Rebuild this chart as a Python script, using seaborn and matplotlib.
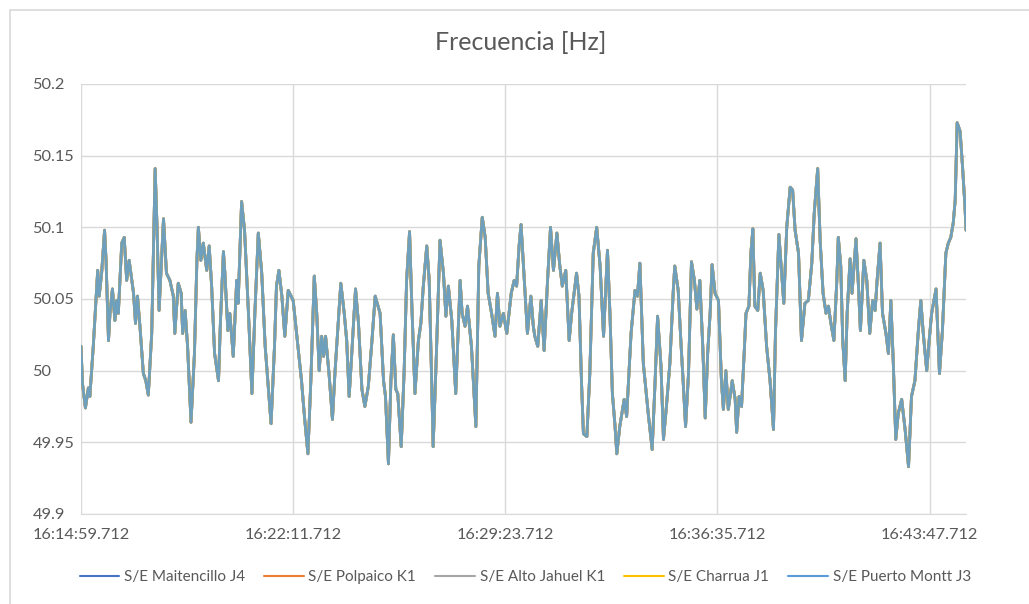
import numpy as np
import pandas as pd
import seaborn as sns
import matplotlib.pyplot as plt
import matplotlib.patches as mpatches
from matplotlib.ticker import FuncFormatter, FixedLocator

# time since 16:14:59.712 in seconds
tiempo_s = [
    0, 3, 9, 15, 18, 25, 28, 34, 37, 42, 48, 51, 56, 59, 64, 69, 73, 76, 83, 88,
    93, 98, 107, 111, 115, 120, 127, 132, 137, 144, 151, 155, 159, 168, 174, 181, 188, 191, 198, 204,
    207, 212, 217, 224, 231, 236, 239, 244, 249, 256, 261, 266, 272, 280, 284, 290,
    293, 299, 303, 310, 317, 320, 327, 333, 341, 348, 354, 361, 368, 375, 387, 394, 398, 403, 409, 415,
    422, 432, 439, 449, 455, 462, 468, 475, 480, 485, 490, 494, 498, 505, 512, 517, 524, 529, 536, 541,
    546, 551, 559, 565, 572, 578, 585, 592,
    599, 609, 616, 620, 626, 631, 636, 641, 645, 652, 658, 663, 669, 673, 680, 687, 692, 697, 704, 709,
    714, 717, 723, 731, 738, 743, 748, 755, 763, 772, 776, 782, 787, 795, 804, 810, 817, 823, 829, 836,
    843, 848, 853, 860, 867, 876, 882, 887, 892, 896, 901,
    904, 909, 916, 921, 924, 930, 937, 943, 950, 956, 962, 969, 975, 980, 987, 994, 999, 1009, 1014, 1019,
    1023, 1030, 1036, 1043, 1050, 1057, 1064, 1072, 1077, 1082, 1087, 1091, 1097, 1106, 1111, 1120, 1128, 1133, 1138, 1145,
    1155, 1163, 1169, 1174, 1181, 1186, 1192, 1199, 1206,
    1209, 1216, 1222, 1226, 1231, 1237, 1243, 1249, 1254, 1260, 1266, 1271, 1276, 1281, 1285, 1291, 1298, 1304, 1308, 1313,
    1318, 1326, 1332, 1335, 1340, 1345, 1351, 1354, 1360, 1364, 1368, 1372, 1378, 1383, 1389, 1396, 1403, 1410, 1414, 1421,
    1427, 1431, 1437, 1444, 1449, 1454, 1461, 1467, 1474, 1481, 1488, 1493, 1500,
    1505, 1511, 1517, 1522, 1526, 1533, 1539, 1542, 1547, 1551, 1556, 1560, 1566, 1570, 1578, 1583, 1587, 1594, 1600, 1606,
    1612, 1617, 1621, 1627, 1632, 1639, 1644, 1649, 1654, 1659, 1664, 1671, 1678, 1685, 1691, 1698, 1705, 1710, 1715, 1722,
    1727, 1732, 1741, 1748, 1754, 1761, 1766, 1771, 1776, 1780, 1784, 1790, 1795, 1800, 1802,
]

frecuencia = [
    50.017, 49.991, 49.974, 49.988, 49.982, 50.017, 50.035, 50.070, 50.052, 50.068,
    50.098, 50.077, 50.021, 50.040, 50.057, 50.035, 50.049, 50.040, 50.089, 50.093,
    50.063, 50.077, 50.054, 50.033, 50.052, 50.031, 49.998, 49.993, 49.983, 50.026,
    50.141, 50.098, 50.042, 50.106, 50.068, 50.063, 50.052, 50.026, 50.061, 50.054,
    50.026, 50.042, 50.017, 49.964, 50.012, 50.077, 50.100, 50.077, 50.089, 50.070,
    50.087, 50.059, 50.012, 49.993, 50.035, 50.083,
    50.068, 50.028, 50.040, 50.010, 50.063, 50.047, 50.118, 50.098, 50.040, 49.984,
    50.040, 50.096, 50.068, 50.017, 49.963, 50.017, 50.059, 50.070, 50.052, 50.024,
    50.056, 50.049, 50.026, 49.993, 49.968, 49.942, 49.993, 50.066, 50.040, 50.000,
    50.024, 50.010, 50.024, 49.998, 49.966, 49.998, 50.035, 50.061, 50.040, 50.021,
    49.982, 50.010, 50.057, 50.033, 49.987, 49.975, 49.989, 50.019,
    50.052, 50.040, 49.993, 49.982, 49.935, 49.993, 50.025, 49.987, 49.984, 49.947,
    50.000, 50.063, 50.097, 50.052, 49.984, 50.021, 50.033, 50.059, 50.087, 50.063,
    49.993, 49.947, 50.005, 50.091, 50.068, 50.038, 50.059, 50.035, 49.984, 50.063,
    50.040, 50.031, 50.045, 50.017, 49.961, 50.073, 50.107, 50.093, 50.054, 50.040,
    50.024, 50.054, 50.031, 50.040, 50.026, 50.054, 50.063, 50.059, 50.087, 50.102,
    50.073,
    50.056, 50.026, 50.052, 50.031, 50.024, 50.017, 50.049, 50.014, 50.063, 50.100,
    50.070, 50.096, 50.073, 50.059, 50.070, 50.021, 50.040, 50.068, 50.052, 49.993,
    49.956, 49.954, 49.998, 50.082, 50.100, 50.073, 50.024, 50.084, 50.040, 49.984,
    49.963, 49.942, 49.961, 49.980, 49.968, 50.026, 50.056, 50.052, 50.075, 50.005,
    49.970, 49.945, 49.993, 50.038, 50.003, 49.952, 49.975, 50.005, 50.056,
    50.073, 50.056, 50.017, 49.993, 49.961, 49.998, 50.076, 50.063, 50.043, 50.063,
    50.017, 49.967, 50.012, 50.040, 50.074, 50.054, 50.049, 49.993, 49.973, 50.000,
    49.973, 49.993, 49.980, 49.957, 49.982, 49.975, 50.017, 50.040, 50.045, 50.082,
    50.099, 50.045, 50.042, 50.068, 50.056, 50.017, 49.993, 49.959, 50.026, 50.095,
    50.066, 50.047, 50.100, 50.128, 50.126, 50.098, 50.082, 50.021, 50.047, 50.049,
    50.075, 50.110, 50.141,
    50.091, 50.054, 50.040, 50.045, 50.035, 50.021, 50.063, 50.093, 50.073, 50.021,
    49.993, 50.040, 50.078, 50.054, 50.092, 50.059, 50.028, 50.077, 50.063, 50.026,
    50.049, 50.042, 50.063, 50.089, 50.040, 50.026, 50.012, 50.049, 50.005, 49.952,
    49.970, 49.980, 49.959, 49.933, 49.982, 49.993, 50.028, 50.049, 50.026, 50.000,
    50.021, 50.040, 50.057, 49.998, 50.028, 50.082, 50.089, 50.093, 50.103, 50.119,
    50.173, 50.167, 50.142, 50.114, 50.098,
]

subestaciones = ["S/E Maitencillo J4", "S/E Polpaico K1", "S/E Alto Jahuel K1",
                 "S/E Charrua J1", "S/E Puerto Montt J3"]
colores = ["#4472C4", "#ED7D31", "#A5A5A5", "#FFC000", "#5B9BD5"]

inicio_s = 16 * 3600 + 14 * 60 + 59.712
ticks_s = [0, 432, 864, 1296, 1728]
ticks_y = [49.9, 49.95, 50.0, 50.05, 50.1, 50.15, 50.2]

# the five traces lie on top of each other in the chart
frames = []
for nombre in subestaciones:
    frames.append(pd.DataFrame({"t": tiempo_s, "f": frecuencia, "serie": nombre}))
df = pd.concat(frames, ignore_index=True)

sns.set_style("white")
plt.rcParams["font.family"] = ["Lato", "DejaVu Sans"]
gris = "#595959"

fig = plt.figure(figsize=(10.29, 6.04), dpi=100)
ax = fig.add_axes([81 / 1029, 90 / 604, 885 / 1029, 430 / 604])

sns.lineplot(data=df, x="t", y="f", hue="serie", hue_order=subestaciones,
             palette=colores, linewidth=2.0, errorbar=None, ax=ax)
for linea in ax.lines[:4]:
    linea.set_alpha(0.9)
ax.lines[4].set_alpha(0.88)

ax.set_xlim(0, 1802)
ax.set_ylim(49.9, 50.2)
ax.xaxis.set_major_locator(FixedLocator(ticks_s))
ax.yaxis.set_major_locator(FixedLocator(ticks_y))


def hora(s, pos):
    total = inicio_s + s
    h = int(total // 3600)
    m = int((total % 3600) // 60)
    seg = total - h * 3600 - m * 60
    return f"{h}:{m:02d}:{seg:06.3f}"


ax.xaxis.set_major_formatter(FuncFormatter(hora))
ax.yaxis.set_major_formatter(FuncFormatter(lambda v, p: f"{v:g}"))
ax.grid(True, color="#d9d9d9", linewidth=1.0)
ax.set_axisbelow(True)
for lado in ["top", "right"]:
    ax.spines[lado].set_visible(False)
ax.spines["left"].set_visible(False)
ax.spines["bottom"].set_color("#d9d9d9")
ax.tick_params(axis="x", length=0, pad=10, labelsize=11.8, labelcolor=gris)
ax.tick_params(axis="y", length=0, pad=35, labelsize=11.8, labelcolor=gris)
for lab in ax.get_yticklabels():
    lab.set_horizontalalignment("left")
ax.set_xlabel("")
ax.set_ylabel("")

fig.text(521 / 1029, 1 - 43 / 604, "Frecuencia [Hz]", ha="center", va="center",
         fontsize=18, color=gris)

sns.move_legend(ax, "center", bbox_to_anchor=(0.502, -0.147), ncol=5, frameon=False,
                title=None, fontsize=11, handlelength=2.6, columnspacing=1.25,
                handletextpad=0.3, labelcolor=gris)
for h in ax.get_legend().legend_handles:
    h.set_linewidth(1.5)
    h.set_alpha(1)

fig.patches.append(mpatches.Rectangle((10 / 1029, -0.1), 1.2, 1.1 - 10 / 604,
                                      transform=fig.transFigure, fill=False,
                                      edgecolor="#d9d9d9", linewidth=1.2))

fig.savefig("out.png", dpi=100)
